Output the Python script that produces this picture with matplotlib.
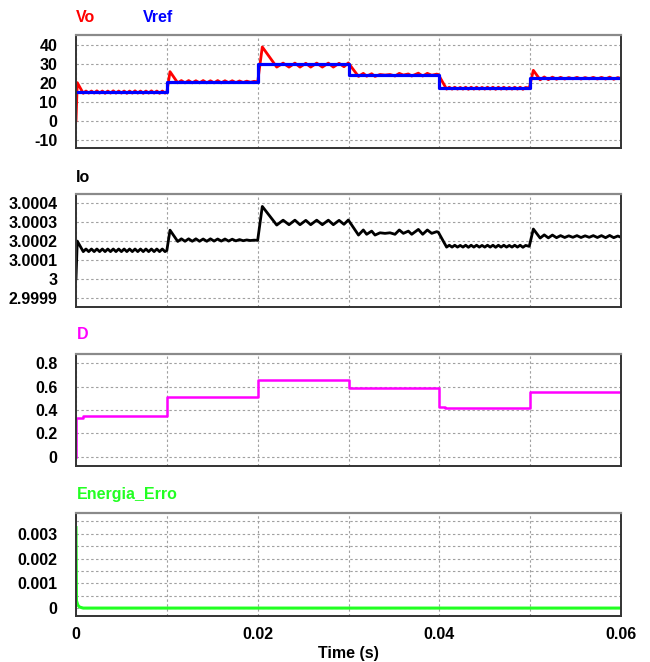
import numpy as np
import matplotlib
matplotlib.use("Agg")
import matplotlib.pyplot as plt

plt.rcParams['font.family'] = ['Liberation Sans', 'DejaVu Sans']
plt.rcParams['font.weight'] = 'bold'

# ---------------- data ----------------
# Vref: step reference per 10 ms interval
vref_t = [0.0, 0.01, 0.02, 0.03, 0.04, 0.05, 0.06]
vref_v = [15.0, 20.5, 29.6, 24.2, 17.2, 22.5, 22.5]

# Vo / Io key points, segment by segment
seg1_t = [0.0, 0.00014, 0.0008, 0.0011, 0.0014, 0.0017, 0.0020, 0.0023, 0.0026, 0.0029,
          0.0032, 0.0035, 0.0038, 0.0041, 0.0044, 0.0047, 0.0050, 0.0053, 0.0056, 0.0059,
          0.0062, 0.0065, 0.0068, 0.0071, 0.0074, 0.0077, 0.0080, 0.0083, 0.0086, 0.0089,
          0.0092, 0.0095, 0.0098, 0.0100]
seg1_vo = [0.0, 20.0, 14.4, 15.6, 14.5, 15.6, 14.5, 15.7, 14.5, 15.6,
           14.4, 15.6, 14.5, 15.7, 14.5, 15.6, 14.5, 15.6, 14.4, 15.6,
           14.5, 15.7, 14.5, 15.6, 14.4, 15.6, 14.5, 15.7, 14.5, 15.6,
           14.4, 15.6, 14.5, 15.0]
seg1_io = [3.0, 3.000200, 3.000144, 3.000158, 3.000144, 3.000158, 3.000144, 3.000158, 3.000144, 3.000158,
           3.000144, 3.000158, 3.000144, 3.000158, 3.000144, 3.000158, 3.000144, 3.000158, 3.000144, 3.000158,
           3.000144, 3.000158, 3.000144, 3.000158, 3.000144, 3.000158, 3.000144, 3.000158, 3.000144, 3.000158,
           3.000144, 3.000158, 3.000144, 3.000150]

seg2_t = [0.01035, 0.0112, 0.0116, 0.0120, 0.0124, 0.0128, 0.0132, 0.0136, 0.0140, 0.0144,
          0.0148, 0.0152, 0.0156, 0.0160, 0.0164, 0.0168, 0.0172, 0.0176, 0.0180, 0.0184,
          0.0188, 0.0192, 0.0196, 0.0200]
seg2_vo = [25.8, 19.9, 21.1, 19.9, 21.1, 19.9, 21.0, 19.9, 21.1, 19.9,
           21.0, 19.9, 21.1, 19.9, 21.0, 20.0, 21.0, 20.0, 20.9, 20.1,
           20.8, 20.2, 20.7, 20.4]
seg2_io = [3.000258, 3.000198, 3.000212, 3.000199, 3.000212, 3.000199, 3.000212, 3.000199, 3.000211, 3.000199,
           3.000212, 3.000200, 3.000211, 3.000200, 3.000211, 3.000200, 3.000210, 3.000201, 3.000208, 3.000202,
           3.000206, 3.000203, 3.000205, 3.000204]

seg3_t = [0.02051, 0.0221, 0.0228, 0.02345, 0.0241, 0.02466, 0.0253, 0.02584, 0.0265, 0.02712,
          0.02778, 0.02833, 0.02896, 0.0295, 0.02998]
seg3_vo = [38.8, 28.2, 30.3, 28.2, 30.3, 28.2, 30.2, 28.2, 30.3, 28.2,
           30.3, 28.2, 30.2, 28.4, 30.4]
seg3_io = [3.000384, 3.000285, 3.000311, 3.000287, 3.000311, 3.000287, 3.000310, 3.000287, 3.000311, 3.000287,
           3.000311, 3.000287, 3.000310, 3.000289, 3.000312]

seg4_t = [0.0311, 0.03163, 0.0320, 0.03255, 0.03292, 0.03347, 0.03402, 0.03457, 0.03512, 0.03559,
          0.03604, 0.03659, 0.03696, 0.03769, 0.03817, 0.03868, 0.03916, 0.03971, 0.03989]
seg4_vo = [23.3, 24.9, 23.4, 24.7, 23.3, 24.3, 24.0, 24.3, 23.5, 24.9,
           24.0, 24.6, 23.5, 25.0, 23.5, 24.9, 23.9, 24.5, 24.3]
seg4_io = [3.000232, 3.000259, 3.000236, 3.000253, 3.000232, 3.000244, 3.000241, 3.000244, 3.000236, 3.000259,
           3.000241, 3.000253, 3.000236, 3.000262, 3.000236, 3.000259, 3.000241, 3.000250, 3.000247]

seg5_t = [0.0408, 0.0411, 0.0414, 0.0417, 0.0420, 0.0423, 0.0426, 0.0429, 0.0432, 0.0435,
          0.0438, 0.0441, 0.0444, 0.0447, 0.0450, 0.0453, 0.0456, 0.0459, 0.0462, 0.0465,
          0.0468, 0.0471, 0.0474, 0.0477, 0.0480, 0.0483, 0.0486, 0.0489, 0.0492, 0.0495,
          0.0499]
seg5_vo = [16.6, 17.6, 16.6, 17.6, 16.6, 17.5, 16.6, 17.6, 16.5, 17.6,
           16.6, 17.6, 16.6, 17.5, 16.6, 17.6, 16.6, 17.6, 16.5, 17.6,
           16.6, 17.6, 16.6, 17.5, 16.6, 17.6, 16.6, 17.6, 16.5, 17.5,
           17.1]
seg5_io = [3.000168, 3.000178, 3.000168, 3.000178, 3.000168, 3.000177, 3.000168, 3.000178, 3.000167, 3.000178,
           3.000168, 3.000178, 3.000168, 3.000177, 3.000168, 3.000178, 3.000168, 3.000178, 3.000167, 3.000178,
           3.000168, 3.000178, 3.000168, 3.000177, 3.000168, 3.000178, 3.000168, 3.000178, 3.000167, 3.000177,
           3.000172]

seg6_t = [0.05035, 0.0511, 0.05155, 0.0520, 0.05245, 0.0529, 0.05335, 0.0538, 0.05425, 0.0547,
          0.05515, 0.0556, 0.05605, 0.0565, 0.05695, 0.0574, 0.05785, 0.0583, 0.05875, 0.0592,
          0.05965, 0.0600]
seg6_vo = [26.5, 21.5, 23.0, 21.6, 22.9, 21.8, 22.8, 21.9, 22.7, 22.0,
           22.8, 21.9, 22.7, 22.0, 22.8, 21.9, 22.8, 21.9, 22.9, 21.8,
           22.7, 22.1]
seg6_io = [3.000264, 3.000216, 3.000233, 3.000217, 3.000232, 3.000218, 3.000229, 3.000219, 3.000228, 3.000220,
           3.000229, 3.000219, 3.000228, 3.000220, 3.000229, 3.000219, 3.000229, 3.000218, 3.000230, 3.000218,
           3.000227, 3.000220]

# Duty cycle D (step values)
d_t = [0.0, 0.00005, 0.0008, 0.01, 0.02, 0.03, 0.04, 0.0406, 0.05, 0.06]
d_v = [0.0, 0.33, 0.346, 0.511, 0.66, 0.589, 0.423, 0.414, 0.554, 0.554]

# Energia_Erro
e_t = [0.0, 0.00005, 0.0002, 0.0004, 0.0008, 0.06]
e_v = [0.00325, 0.0003, 0.00012, 0.00004, 0.0, 0.0]

# tick labels
vo_ticks = [-10, 0, 10, 20, 30, 40]
io_ticks = [2.9999, 3.0, 3.0001, 3.0002, 3.0003, 3.0004]
io_ticklabels = ['2.9999', '3', '3.0001', '3.0002', '3.0003', '3.0004']
d_ticks = [0.0, 0.2, 0.4, 0.6, 0.8]
d_ticklabels = ['0', '0.2', '0.4', '0.6', '0.8']
e_ticks = [0.0, 0.001, 0.002, 0.003]
e_ticklabels = ['0', '0.001', '0.002', '0.003']
e_minor = [0.0005, 0.0015, 0.0025, 0.0035]
x_ticks = [0.0, 0.01, 0.02, 0.03, 0.04, 0.05, 0.06]
x_ticklabels = ['0', '', '0.02', '', '0.04', '', '0.06']

# ---------------- figure ----------------
W, H = 650, 662
fig = plt.figure(figsize=(W / 100, H / 100), dpi=100)

def px_axes(left, top, right, bottom):
    return fig.add_axes([left / W, 1 - bottom / H, (right - left) / W, (bottom - top) / H])

ax1 = px_axes(76, 35, 621, 148)
ax2 = px_axes(76, 194, 621, 307)
ax3 = px_axes(76, 354, 621, 466)
ax4 = px_axes(76, 513, 621, 616)

grid_kw = dict(color='#a0a0a0', linestyle=(0, (2.2, 2.2)), linewidth=0.8)
TICK_FS = 11.5

for ax in (ax1, ax2, ax3, ax4):
    ax.set_xlim(0, 0.06)
    ax.set_xticks(x_ticks)
    ax.set_xticklabels(['' for _ in x_ticks])
    ax.tick_params(axis='both', length=0, labelsize=TICK_FS, pad=13.5)
    ax.tick_params(axis='x', pad=8)
    ax.grid(True, which='major', **grid_kw)
    ax.set_axisbelow(True)
    for s in ('left', 'bottom', 'right'):
        ax.spines[s].set_color('#333333')
        ax.spines[s].set_linewidth(1.4)
    ax.spines['top'].set_color('#8a8a8a')
    ax.spines['top'].set_linewidth(1.6)

# concatenated waveforms
t_w = np.array(seg1_t + seg2_t + seg3_t + seg4_t + seg5_t + seg6_t)
vo_w = np.array(seg1_vo + seg2_vo + seg3_vo + seg4_vo + seg5_vo + seg6_vo)
io_w = np.array(seg1_io + seg2_io + seg3_io + seg4_io + seg5_io + seg6_io)

# Panel 1: Vo / Vref
ax1.plot(t_w, vo_w, color='#ff0000', linewidth=2.0, solid_joinstyle='round')
ax1.plot(vref_t, vref_v, color='#0000ff', linewidth=2.3, drawstyle='steps-post')
ax1.set_ylim(-14.4, 45.1)
ax1.set_yticks(vo_ticks)
ax1.set_yticklabels([str(v) for v in vo_ticks], fontweight='bold', fontsize=TICK_FS)

# Panel 2: Io
ax2.plot(t_w, io_w, color='black', linewidth=2.0, solid_joinstyle='round')
ax2.set_ylim(2.99985, 3.00045)
ax2.set_yticks(io_ticks)
ax2.set_yticklabels(io_ticklabels, fontweight='bold', fontsize=TICK_FS)

# Panel 3: D
ax3.plot(d_t, d_v, color='#ff00ff', linewidth=1.8, drawstyle='steps-post')
ax3.set_ylim(-0.08, 0.88)
ax3.set_yticks(d_ticks)
ax3.set_yticklabels(d_ticklabels, fontweight='bold', fontsize=TICK_FS)

# Panel 4: Energia_Erro
ax4.plot(e_t, e_v, color='#22ff22', linewidth=2.2)
ax4.set_ylim(-0.00032, 0.00384)
ax4.set_yticks(e_ticks)
ax4.set_yticks(e_minor, minor=True)
ax4.tick_params(axis='y', which='minor', length=0)
ax4.grid(True, which='minor', axis='y', **grid_kw)
ax4.set_yticklabels(e_ticklabels, fontweight='bold', fontsize=TICK_FS)
ax4.set_xticklabels(x_ticklabels, fontweight='bold', fontsize=TICK_FS)
ax4.set_xlabel('Time (s)', fontsize=11.5, fontweight='bold', labelpad=2.5)

# Panel titles
title_kw = dict(fontsize=11.5, fontweight='bold', va='center', ha='left')
fig.text(76 / W, 1 - 17 / H, 'Vo', color='#ff0000', **title_kw)
fig.text(143 / W, 1 - 17 / H, 'Vref', color='#0000ff', **title_kw)
fig.text(76 / W, 1 - 177 / H, 'Io', color='black', **title_kw)
fig.text(77 / W, 1 - 335 / H, 'D', color='#ff00ff', **title_kw)
fig.text(77 / W, 1 - 494 / H, 'Energia_Erro', color='#22ff22', **title_kw)

fig.savefig('out.png', dpi=100)
